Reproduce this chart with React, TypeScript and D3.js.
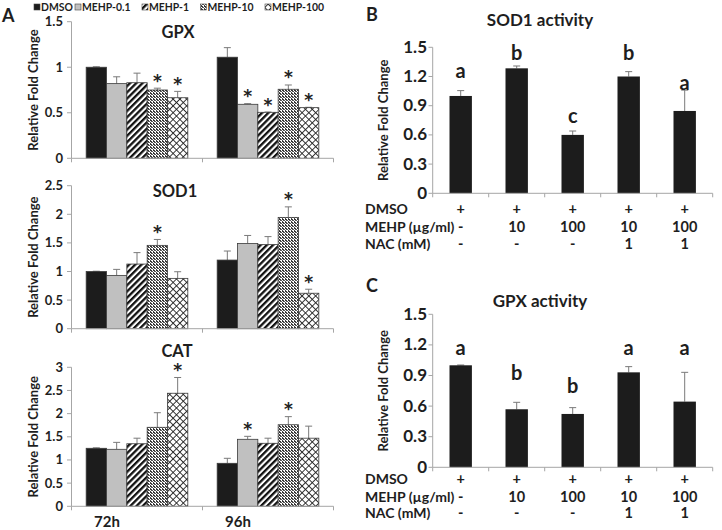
import React from "react";
import * as d3 from "d3";

const FONT = "Lato, 'Open Sans', 'DejaVu Sans', sans-serif";

// ---------- Panel A data ----------
const timePoints = ["72h", "96h"];
const treatments = ["DMSO", "MEHP-0.1", "MEHP-1", "MEHP-10", "MEHP-100"];

const gpxMeans = [
  [1.0, 0.82, 0.83, 0.75, 0.665],
  [1.11, 0.593, 0.505, 0.758, 0.556],
];
const gpxErrors = [
  [0.005, 0.075, 0.105, 0.02, 0.07],
  [0.105, 0.007, 0.003, 0.047, 0.004],
];
const gpxStars = [
  [0, 0, 0, 1, 1],
  [0, 1, 1, 1, 1],
];
const gpxTicks = [0, 0.5, 1, 1.5];

const sodMeans = [
  [1.0, 0.932, 1.13, 1.457, 0.88],
  [1.2, 1.49, 1.47, 1.946, 0.62],
];
const sodErrors = [
  [0.005, 0.105, 0.2, 0.103, 0.116],
  [0.158, 0.14, 0.14, 0.184, 0.07],
];
const sodStars = [
  [0, 0, 0, 1, 0],
  [0, 0, 0, 1, 1],
];
const sodTicks = [0, 0.5, 1, 1.5, 2, 2.5];

const catMeans = [
  [1.252, 1.23, 1.35, 1.705, 2.44],
  [0.928, 1.446, 1.36, 1.76, 1.47],
];
const catErrors = [
  [0.01, 0.15, 0.12, 0.315, 0.34],
  [0.108, 0.064, 0.11, 0.175, 0.26],
];
const catStars = [
  [0, 0, 0, 0, 1],
  [0, 1, 0, 1, 0],
];
const catTicks = [0, 0.5, 1, 1.5, 2, 2.5, 3];

// ---------- Panels B & C data ----------
const conditions = ["c1", "c2", "c3", "c4", "c5"];
const rowLabels = ["DMSO", "MEHP (µg/ml)", "NAC (mM)"];
const dmsoRow = ["+", "+", "+", "+", "+"];
const mehpRow = ["-", "10", "100", "10", "100"];
const nacRow = ["-", "-", "-", "1", "1"];

const sodActMeans = [1.0, 1.284, 0.6, 1.2, 0.846];
const sodActErrors = [0.055, 0.024, 0.04, 0.05, 0.214];
const sodActLetters = ["a", "b", "c", "b", "a"];
const sodActLetterY = [1.185, 1.367, 0.723, 1.367, 1.06];

const gpxActMeans = [1.0, 0.569, 0.523, 0.931, 0.644];
const gpxActErrors = [0.003, 0.068, 0.062, 0.056, 0.287];
const gpxActLetters = ["a", "b", "b", "a", "a"];
const gpxActLetterY = [1.1, 0.856, 0.73, 1.1, 1.1];

const activityTicks = [0, 0.3, 0.6, 0.9, 1.2, 1.5];

// ---------- styles ----------
const fills = ["#1c1c1c", "#c0c0c0", "url(#pStripe)", "url(#pDots)", "url(#pCross)"];
const AXIS = "#a6a6a6";
const ERR = "#7a7a7a";
const TXT = "#1e1e1e";
const STAR_FONT = "'DejaVu Sans', sans-serif";

function fmt(v: number) {
  return String(v);
}

type APanelProps = {
  title: string;
  means: number[][];
  errors: number[][];
  stars: number[][];
  ticks: number[];
  y0: number;
  yTop: number;
  titleY: number;
  titleX: number;
  xLabels?: boolean;
};

function PanelA(p: APanelProps) {
  const x = d3.scaleBand<string>().domain(timePoints).range([71.5, 333.5]).paddingInner(0.224).paddingOuter(0.112);
  const xs = d3.scaleBand<string>().domain(treatments).range([0, x.bandwidth()]);
  const maxT = p.ticks[p.ticks.length - 1];
  const y = d3.scaleLinear().domain([0, maxT]).range([p.y0, p.yTop]);
  const step = x.step();
  const edges = [x.range()[0], x.range()[0] + step, x.range()[0] + 2 * step];
  return (
    <g>
      <text x={p.titleX} y={p.titleY} textAnchor="middle" fontSize={16.5} fontWeight={700} fill={TXT}>
        {p.title}
      </text>
      <text
        transform={`translate(38,${(p.y0 + p.yTop) / 2}) rotate(-90)`}
        textAnchor="middle"
        fontSize={13}
        fontWeight={700}
        fill={TXT}
      >
        Relative Fold Change
      </text>
      {timePoints.map((tp, gi) =>
        treatments.map((tr, si) => {
          const bx = (x(tp) as number) + (xs(tr) as number);
          const w = xs.bandwidth();
          const v = p.means[gi][si];
          const e = p.errors[gi][si];
          const cx = bx + w / 2;
          return (
            <g key={tp + tr}>
              <line x1={cx} x2={cx} y1={y(v)} y2={y(v + e)} stroke={ERR} strokeWidth={1} />
              <line x1={cx - 3.5} x2={cx + 3.5} y1={y(v + e)} y2={y(v + e)} stroke={ERR} strokeWidth={1} />
              <rect x={bx} y={y(v)} width={w} height={p.y0 - y(v)} fill={fills[si]} stroke="#3a3a3a" strokeWidth={0.8} />
              {p.stars[gi][si] ? (
                <text
                  x={cx}
                  y={y(v + e) - 1.5}
                  textAnchor="middle"
                  fontSize={17}
                  fontWeight={700}
                  fontFamily={STAR_FONT}
                  fill="#222"
                >
                  *
                </text>
              ) : null}
            </g>
          );
        })
      )}
      <line x1={71.5} x2={71.5} y1={p.yTop} y2={p.y0} stroke={AXIS} />
      {p.ticks.map((t) => (
        <g key={t}>
          <line x1={67} x2={71.5} y1={y(t)} y2={y(t)} stroke={AXIS} />
          <text x={63} y={y(t) + 4.5} textAnchor="end" fontSize={13} fontWeight={700} fill={TXT}>
            {fmt(t)}
          </text>
        </g>
      ))}
      <line x1={71.5} x2={333.5} y1={p.y0} y2={p.y0} stroke={AXIS} />
      {edges.map((ex, i) => (
        <line key={i} x1={ex} x2={ex} y1={p.y0} y2={p.y0 + 4} stroke={AXIS} />
      ))}
      {p.xLabels
        ? timePoints.map((tp) => (
            <text
              key={tp}
              x={(x(tp) as number) + x.bandwidth() / 2 - 30}
              y={527}
              textAnchor="middle"
              fontSize={15}
              fontWeight={700}
              fill={TXT}
            >
              {tp}
            </text>
          ))
        : null}
    </g>
  );
}

type ActProps = {
  title: string;
  letter: string;
  letterY: number;
  titleY: number;
  means: number[];
  errors: number[];
  letters: string[];
  letterVals: number[];
  y0: number;
  yTop: number;
  rowY: number[];
};

function PanelAct(p: ActProps) {
  const x = d3.scaleBand<string>().domain(conditions).range([432.7, 712.7]).paddingInner(0.6).paddingOuter(0.3);
  const y = d3.scaleLinear().domain([0, 1.5]).range([p.y0, p.yTop]);
  const rows = [dmsoRow, mehpRow, nacRow];
  const edges = d3.range(conditions.length + 1).map((i) => 432.7 + i * x.step());
  return (
    <g>
      <text x={366} y={p.letterY} fontSize={18} fontWeight={700} fill={TXT}>
        {p.letter}
      </text>
      <text x={540} y={p.titleY} textAnchor="middle" fontSize={17} fontWeight={700} fill={TXT}>
        {p.title}
      </text>
      <text
        transform={`translate(387.5,${(p.y0 + p.yTop) / 2}) rotate(-90)`}
        textAnchor="middle"
        fontSize={13}
        fontWeight={700}
        fill={TXT}
      >
        Relative Fold Change
      </text>
      {conditions.map((c, i) => {
        const bx = x(c) as number;
        const w = x.bandwidth();
        const cx = bx + w / 2;
        const v = p.means[i];
        const e = p.errors[i];
        return (
          <g key={c}>
            <line x1={cx} x2={cx} y1={y(v)} y2={y(v + e)} stroke={ERR} />
            <line x1={cx - 3.5} x2={cx + 3.5} y1={y(v + e)} y2={y(v + e)} stroke={ERR} />
            <rect x={bx} y={y(v)} width={w} height={p.y0 - y(v)} fill="#1c1c1c" />
            <text x={cx} y={y(p.letterVals[i])} textAnchor="middle" fontSize={20} fontWeight={700} fill={TXT}>
              {p.letters[i]}
            </text>
          </g>
        );
      })}
      <line x1={432.7} x2={432.7} y1={p.yTop} y2={p.y0} stroke={AXIS} />
      {activityTicks.map((t) => (
        <g key={t}>
          <line x1={428.5} x2={432.7} y1={y(t)} y2={y(t)} stroke={AXIS} />
          <text x={427} y={y(t) + 5.5} textAnchor="end" fontSize={17} fontWeight={700} fill={TXT}>
            {fmt(t)}
          </text>
        </g>
      ))}
      <line x1={432.7} x2={712.7} y1={p.y0} y2={p.y0} stroke={AXIS} />
      {edges.map((ex, i) => (
        <line key={i} x1={ex} x2={ex} y1={p.y0} y2={p.y0 + 4} stroke={AXIS} />
      ))}
      {rowLabels.map((lbl, ri) => (
        <g key={lbl}>
          <text x={365} y={p.rowY[ri]} fontSize={14} fontWeight={700} fill={TXT}>
            {lbl}
          </text>
          {conditions.map((c, i) => (
            <text
              key={c}
              x={(x(c) as number) + x.bandwidth() / 2}
              y={p.rowY[ri]}
              textAnchor="middle"
              fontSize={14.5}
              fontWeight={700}
              fill={TXT}
            >
              {rows[ri][i]}
            </text>
          ))}
        </g>
      ))}
    </g>
  );
}

const legendIconX = [34, 75, 142, 200.5, 265];

export default function App() {
  return (
    <svg
      width={722}
      height={530}
      style={{ position: "absolute", left: 0, top: 0, background: "#fff" }}
      fontFamily={FONT}
    >
      <defs>
        <pattern id="pStripe" patternUnits="userSpaceOnUse" width={4.4} height={4.4} patternTransform="rotate(45)">
          <rect width={4.4} height={4.4} fill="#fff" />
          <rect width={2.3} height={4.4} fill="#111" />
        </pattern>
        <pattern id="pDots" patternUnits="userSpaceOnUse" width={3} height={3}>
          <rect width={3} height={3} fill="#fff" />
          <rect x={0} y={0} width={2} height={1} fill="#333" />
          <rect x={1} y={1} width={2} height={1} fill="#555" />
          <rect x={0} y={2} width={1} height={1} fill="#444" />
        </pattern>
        <pattern id="pCross" patternUnits="userSpaceOnUse" width={4.8} height={4.8} patternTransform="rotate(45)">
          <rect width={4.8} height={4.8} fill="#fff" />
          <rect width={0.9} height={4.8} fill="#222" />
          <rect width={4.8} height={0.9} fill="#222" />
        </pattern>
      </defs>

      {/* Legend */}
      {treatments.map((tr, i) => (
        <g key={tr}>
          <rect x={legendIconX[i]} y={4} width={6} height={6} fill={fills[i]} stroke="#444" strokeWidth={0.6} />
          <text x={legendIconX[i] + 7} y={10.5} fontSize={10.4} fontWeight={700} fill={TXT}>
            {tr}
          </text>
        </g>
      ))}
      <text x={2} y={22} fontSize={18} fontWeight={700} fill={TXT}>
        A
      </text>

      <PanelA title="GPX" means={gpxMeans} errors={gpxErrors} stars={gpxStars} ticks={gpxTicks} y0={158.3} yTop={21.7} titleY={38} titleX={178} />
      <PanelA title="SOD1" means={sodMeans} errors={sodErrors} stars={sodStars} ticks={sodTicks} y0={328.7} yTop={185.7} titleY={197} titleX={175} />
      <PanelA title="CAT" means={catMeans} errors={catErrors} stars={catStars} ticks={catTicks} y0={506.3} yTop={367.3} titleY={357} titleX={177} xLabels />

      <PanelAct
        title="SOD1 activity"
        letter="B"
        letterY={21}
        titleY={26}
        means={sodActMeans}
        errors={sodActErrors}
        letters={sodActLetters}
        letterVals={sodActLetterY}
        y0={193.3}
        yTop={47.3}
        rowY={[214, 232, 249]}
      />
      <PanelAct
        title="GPX activity"
        letter="C"
        letterY={292}
        titleY={307}
        means={gpxActMeans}
        errors={gpxActErrors}
        letters={gpxActLetters}
        letterVals={gpxActLetterY}
        y0={467.3}
        yTop={314.3}
        rowY={[484, 502, 518]}
      />
    </svg>
  );
}
